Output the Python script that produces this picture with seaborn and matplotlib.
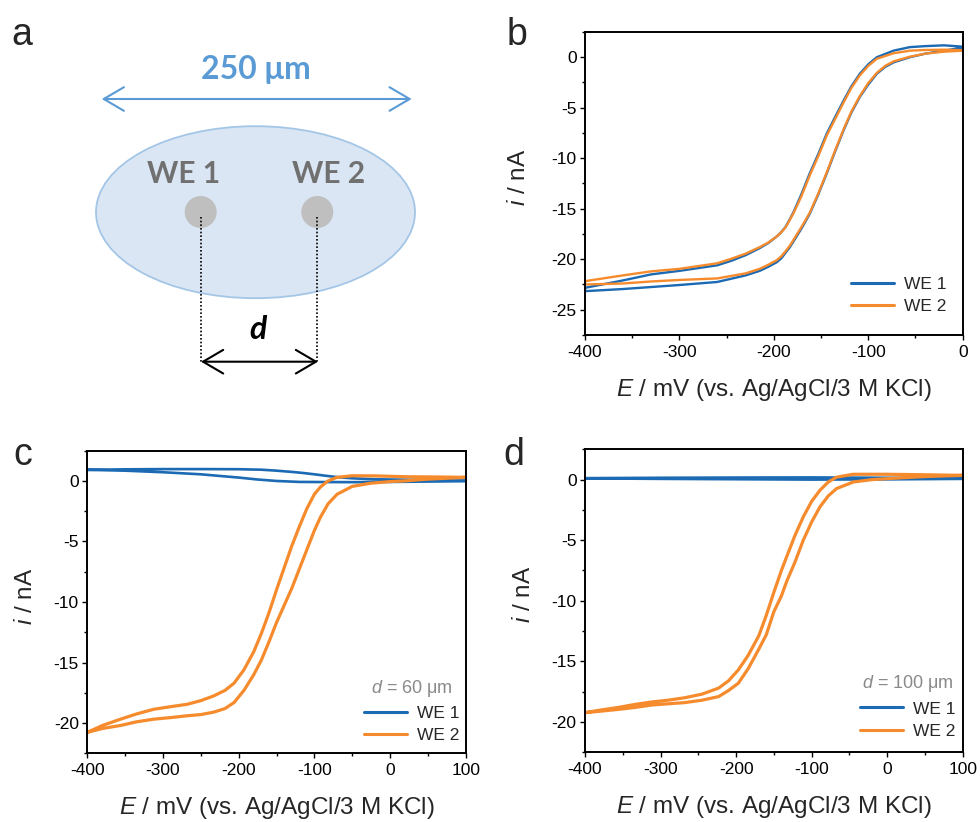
import matplotlib
matplotlib.use("Agg")
import matplotlib.pyplot as plt
import pandas as pd
import seaborn as sns
from matplotlib.patches import Ellipse, Circle
from matplotlib.ticker import MultipleLocator

sns.set_theme(style="ticks")
plt.rcParams.update({
    "axes.unicode_minus": False,
    "mathtext.fontset": "custom",
    "mathtext.rm": "Liberation Sans",
    "mathtext.it": "Liberation Sans:italic",
    "axes.linewidth": 1.4,
    "axes.edgecolor": "black",
    "xtick.direction": "out",
    "ytick.direction": "out",
    "xtick.major.size": 3.6,
    "ytick.major.size": 3.6,
    "xtick.minor.size": 2.2,
    "ytick.minor.size": 2.2,
    "xtick.major.width": 1.0,
    "ytick.major.width": 1.0,
    "xtick.minor.width": 1.0,
    "ytick.minor.width": 1.0,
    "xtick.color": "black",
    "ytick.color": "black",
    "xtick.labelsize": 12.5,
    "ytick.labelsize": 12.5,
})
plt.rcParams["font.family"] = ["Liberation Sans", "DejaVu Sans"]

COLORS = {"WE 1": "#1b6ab3", "WE 2": "#f68b2d"}

# ---- panel b: both electrodes, no separation (mV, nA) ----
b_E_cath = [0, -20, -40, -56, -73, -91, -100, -109, -118, -126, -135, -144, -153,
            -162, -171, -179, -184, -188, -193, -197, -206, -215, -230, -245, -260, -300, -330, -360, -400]
b_we1_cath = [1.05, 1.18, 1.1, 1.0, 0.66, 0.0, -0.7, -1.64, -2.9, -4.27, -5.9, -7.56, -9.6,
              -11.5, -13.6, -15.3, -16.2, -16.85, -17.4, -17.75, -18.4, -18.9, -19.6, -20.15, -20.6,
              -21.15, -21.5, -22.1, -22.83]
b_we2_cath = [0.7, 0.75, 0.72, 0.65, 0.4, -0.15, -0.85, -1.8, -3.05, -4.45, -6.1, -7.75, -9.8,
              -11.7, -13.8, -15.4, -16.25, -16.9, -17.4, -17.75, -18.35, -18.8, -19.45, -19.95, -20.4,
              -20.95, -21.2, -21.6, -22.17]
b_E_anod = [-400, -360, -330, -300, -260, -230, -215, -206, -197, -192, -188, -183, -179, -171, -162, -153,
            -144, -135, -126, -118, -109, -100, -91, -82, -73, -56, -40, -20, 0]
b_we1_anod = [-23.16, -22.95, -22.75, -22.55, -22.25, -21.6, -21.15, -20.75, -20.3, -19.9, -19.4, -18.8,
              -18.2, -17.0, -15.5, -13.6, -11.5, -9.3, -7.2, -5.5, -3.94, -2.7, -1.64, -0.95, -0.5,
              0.0, 0.35, 0.65, 0.95]
b_we2_anod = [-22.5, -22.4, -22.2, -22.05, -21.9, -21.4, -20.95, -20.55, -20.1, -19.7, -19.25, -18.65,
              -18.05, -16.85, -15.4, -13.5, -11.4, -9.2, -7.1, -5.4, -3.85, -2.55, -1.55, -0.85, -0.4,
              0.05, 0.35, 0.55, 0.65]

# ---- panel c: d = 60 um ----
c_we1_E_up = [-400, -350, -300, -250, -200, -170, -150, -130, -115, -100, -85, -70, -50, -25, 0, 50, 100]
c_we1_up = [0.92, 0.96, 0.98, 0.98, 0.97, 0.93, 0.85, 0.75, 0.66, 0.55, 0.43, 0.32, 0.22, 0.15, 0.12, 0.08, 0.03]
c_we1_E_down = [100, 50, 0, -50, -120, -150, -175, -200, -250, -300, -350, -400]
c_we1_down = [-0.02, -0.05, -0.08, -0.1, -0.08, 0.0, 0.12, 0.28, 0.55, 0.72, 0.85, 0.92]
c_we2_E_up = [-400, -380, -356, -335, -312, -290, -268, -250, -233, -218, -206, -193, -180, -170, -160,
              -150, -140, -130, -120, -110, -100, -92, -82, -70, -50, -20, 20, 60, 100]
c_we2_up = [-20.77, -20.2, -19.68, -19.25, -18.86, -18.65, -18.45, -18.15, -17.76, -17.3, -16.7, -15.6,
            -14.1, -12.6, -10.9, -9.0, -7.2, -5.4, -3.8, -2.3, -1.1, -0.5, 0.0, 0.3, 0.43, 0.42, 0.35, 0.33, 0.3]
c_we2_E_down = [100, 50, 18, 0, -26, -50, -70, -82, -92, -100, -110, -120, -130, -140, -150, -160, -170,
                -180, -193, -206, -218, -233, -250, -268, -290, -312, -335, -356, -380, -400]
c_we2_down = [0.3, 0.15, 0.0, -0.05, -0.19, -0.45, -1.1, -1.9, -3.0, -4.1, -5.7, -7.3, -8.9, -10.3, -11.7,
              -13.3, -14.8, -16.0, -17.3, -18.3, -18.8, -19.1, -19.3, -19.4, -19.55, -19.68, -19.9, -20.2,
              -20.45, -20.77]

# ---- panel d: d = 100 um ----
d_we1_E_up = [-400, -300, -200, -100, 0, 100]
d_we1_up = [0.12, 0.15, 0.17, 0.18, 0.15, 0.1]
d_we1_E_down = [100, 0, -100, -200, -300, -400]
d_we1_down = [0.06, 0.02, 0.0, 0.03, 0.06, 0.1]
d_we2_E_up = [-400, -378, -356, -334, -312, -290, -268, -245, -223, -210, -197, -184, -170, -160,
              -150, -140, -133, -122, -111, -100, -89, -78, -67, -45, 0, 50, 100]
d_we2_up = [-19.23, -19.0, -18.8, -18.55, -18.35, -18.2, -18.0, -17.7, -17.2, -16.6, -15.7, -14.5,
            -12.9, -11.2, -9.3, -7.5, -6.36, -4.6, -3.07, -1.8, -0.88, -0.2, 0.2, 0.44, 0.44, 0.4, 0.35]
d_we2_E_down = [100, 50, 0, -20, -45, -67, -78, -89, -100, -111, -122, -133, -140, -150, -160, -170,
                -184, -197, -210, -223, -245, -268, -290, -312, -334, -356, -378, -400]
d_we2_down = [0.35, 0.25, 0.08, 0.0, -0.2, -0.74, -1.35, -2.25, -3.5, -4.99, -6.8, -8.4, -9.6, -10.9,
              -12.8, -14.0, -15.6, -16.8, -17.4, -17.9, -18.2, -18.4, -18.5, -18.6, -18.8, -18.96,
              -19.1, -19.23]

X_LABEL = r"$\mathit{E}$ / mV (vs. Ag/AgCl/3 M KCl)"
Y_LABEL = r"$\mathit{i}$ / nA"


def cycle(electrode, E1, i1, E2, i2):
    """One closed voltammogram: first sweep followed by the return sweep."""
    return pd.DataFrame({
        "E": list(E1) + list(E2),
        "i": list(i1) + list(i2),
        "electrode": electrode,
    })


def style_axes(ax, xlim, ylim, ylabel_x):
    ax.set_xlim(*xlim)
    ax.set_ylim(*ylim)
    ax.xaxis.set_major_locator(MultipleLocator(100))
    ax.xaxis.set_minor_locator(MultipleLocator(50))
    ax.yaxis.set_major_locator(MultipleLocator(5))
    ax.yaxis.set_minor_locator(MultipleLocator(2.5))
    ax.tick_params(which="both", top=False, right=False)
    ax.tick_params(axis="x", which="major", pad=3.5)
    ax.tick_params(axis="y", which="major", pad=2.5)
    for s in ax.spines.values():
        s.set_visible(True)
        s.set_linewidth(1.4)
        s.set_color("black")
    ax.set_xlabel(X_LABEL, fontsize=17.5)
    ax.set_ylabel(Y_LABEL, fontsize=17.5)
    ax.xaxis.set_label_coords(0.5, -0.137)
    ax.xaxis.label.set_va("top")
    ax.yaxis.set_label_coords(ylabel_x, 0.52)


def draw_cv(ax, frames, widths):
    for df, lw in zip(frames, widths):
        name = df["electrode"].iloc[0]
        sns.lineplot(data=df, x="E", y="i", sort=False, estimator=None,
                     color=COLORS[name], lw=lw, label=name, ax=ax)


def add_legend(ax, anchor, title=None):
    leg = ax.legend(loc="lower right", bbox_to_anchor=anchor, frameon=False,
                    borderaxespad=0, borderpad=0.35 if title else 0,
                    handlelength=2.45, handletextpad=0.6, labelspacing=0.4,
                    fontsize=12.5, title=title, title_fontsize=13)
    if title is not None:
        leg.get_title().set_color("#8a8a8a")
    for line in leg.get_lines():
        line.set_linewidth(2.2)
    return leg


fig = plt.figure(figsize=(9.8, 8.22), dpi=100)

# ---------------- panel a: electrode layout sketch ----------------
ax_a = fig.add_axes([0, 1 - 411 / 822, 490 / 980, 411 / 822])
ax_a.set_xlim(0, 490)
ax_a.set_ylim(411, 0)
ax_a.axis("off")
ax_a.add_patch(Ellipse((255.5, 212.2), 319, 172, facecolor="#dbe6f4",
                       edgecolor="#a4c6e6", lw=1.3))
for cx in (200.7, 317.3):
    ax_a.add_patch(Circle((cx, 212), 16, facecolor="#bfbfbf", edgecolor="none"))
    ax_a.plot([cx, cx], [217, 361.7], color="black", lw=1.2, ls=(0, (1, 1.2)))
ax_a.annotate("", xy=(411.7, 99), xytext=(101.7, 99),
              arrowprops=dict(arrowstyle="<->,head_length=1.45,head_width=0.85",
                              color="#5b9bd5", lw=1.5, shrinkA=0, shrinkB=0,
                              mutation_scale=10))
ax_a.annotate("", xy=(318, 361.7), xytext=(201, 361.7),
              arrowprops=dict(arrowstyle="<->,head_length=1.45,head_width=0.85",
                              color="black", lw=1.5, shrinkA=0, shrinkB=0,
                              mutation_scale=10))
ax_a.text(255.8, 79.3, "250 μm", color="#5b9bd5", fontsize=23, fontweight="bold",
          ha="center", va="baseline", family=["Lato", "DejaVu Sans"])
ax_a.text(183.3, 183.3, "WE 1", color="#707070", fontsize=21.5, fontweight="bold",
          ha="center", va="baseline", family=["Lato", "DejaVu Sans"])
ax_a.text(328.3, 183.3, "WE 2", color="#707070", fontsize=21.5, fontweight="bold",
          ha="center", va="baseline", family=["Lato", "DejaVu Sans"])
ax_a.text(258.3, 339, "d", color="black", fontsize=23, fontweight="bold",
          fontstyle="italic", ha="center", va="baseline", family=["Lato", "DejaVu Sans"])

# ---------------- panel b ----------------
ax_b = fig.add_axes([585 / 980, 1 - 335 / 822, 377.7 / 980, 303 / 822])
draw_cv(ax_b, [cycle("WE 1", b_E_cath, b_we1_cath, b_E_anod, b_we1_anod),
               cycle("WE 2", b_E_cath, b_we2_cath, b_E_anod, b_we2_anod)],
        [1.7, 1.7])
style_axes(ax_b, (-400, 0), (-27.5, 2.5), -0.146)
add_legend(ax_b, (0.958, 0.07))

# ---------------- panel c ----------------
ax_c = fig.add_axes([87.3 / 980, 1 - 753.3 / 822, 378.4 / 980, 302.6 / 822])
draw_cv(ax_c, [cycle("WE 1", c_we1_E_up, c_we1_up, c_we1_E_down, c_we1_down),
               cycle("WE 2", c_we2_E_up, c_we2_up, c_we2_E_down, c_we2_down)],
        [1.9, 2.3])
style_axes(ax_c, (-400, 100), (-22.5, 2.5), -0.134)
add_legend(ax_c, (1.0, 0.013), title=r"$\mathit{d}$ = 60 μm")

# ---------------- panel d ----------------
ax_d = fig.add_axes([585 / 980, 1 - 752.3 / 822, 377.7 / 980, 303 / 822])
draw_cv(ax_d, [cycle("WE 1", d_we1_E_up, d_we1_up, d_we1_E_down, d_we1_down),
               cycle("WE 2", d_we2_E_up, d_we2_up, d_we2_E_down, d_we2_down)],
        [1.9, 2.3])
style_axes(ax_d, (-400, 100), (-22.5, 2.5), -0.132)
add_legend(ax_d, (0.998, 0.025), title=r"$\mathit{d}$ = 100 μm")

# panel letters
for x, y, s in [(22, 45, "a"), (517, 45, "b"), (23, 465, "c"), (514, 465, "d")]:
    fig.text(x / 980, 1 - y / 822, s, fontsize=27, ha="center", va="baseline")

fig.savefig("out.png", dpi=100)
